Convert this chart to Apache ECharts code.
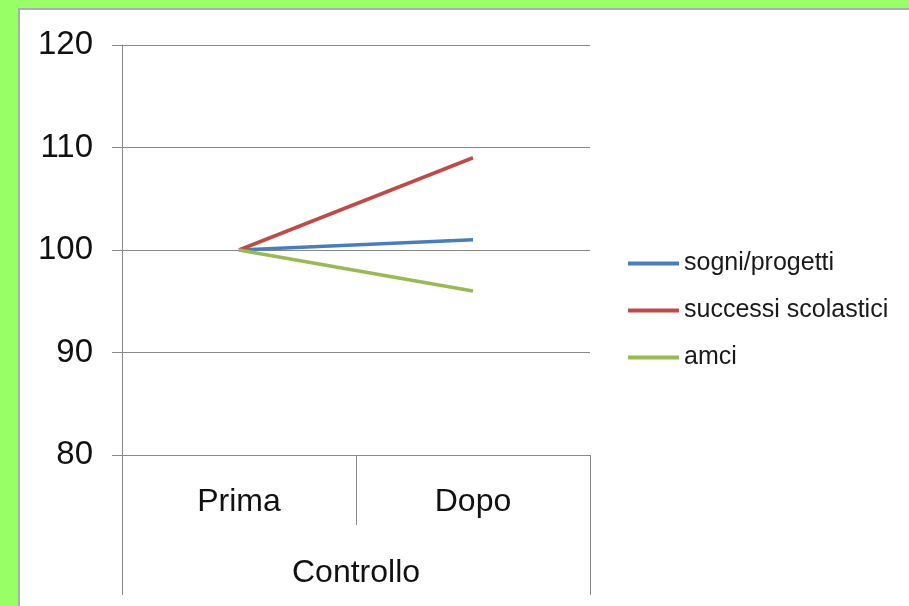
<!DOCTYPE html>
<html><head><meta charset="utf-8">
<script src="https://cdn.jsdelivr.net/npm/echarts@6/dist/echarts.min.js"></script>
<style>
html,body{margin:0;padding:0;background:#99ff66;}
#frame{position:absolute;left:18px;top:8px;width:891px;height:598px;background:#a8acc0;}
#inner{position:absolute;left:20px;top:10px;width:889px;height:596px;background:#ffffff;}
#c{position:absolute;left:0;top:0;width:909px;height:606px;}
</style></head>
<body>
<div id="frame"></div><div id="inner"></div>
<div id="c"></div>
<script>
var categories = ['Prima', 'Dopo'];
var groupLabel = ['Controllo'];
var seriesNames = ['sogni/progetti', 'successi scolastici', 'amci'];
var sogniProgetti = [100, 101];
var successiScolastici = [100, 109];
var amci = [100, 96];
var colors = ['#4a7ebb', '#be4b48', '#98b954'];

var font = 'Liberation Sans, Arial, sans-serif';
var gray = '#888888';
var chart = echarts.init(document.getElementById('c'), null, {renderer: 'canvas'});
var data = [sogniProgetti, successiScolastici, amci];
chart.setOption({
  animation: false,
  backgroundColor: 'transparent',
  grid: {left: 122, right: 319, top: 45, bottom: 151},
  legend: {
    orient: 'vertical', left: 623, top: 246, itemWidth: 51, itemHeight: 4, itemGap: 22,
    icon: 'rect',
    textStyle: {fontFamily: font, fontSize: 25, color: '#1a1a1a'},
    data: seriesNames
  },
  xAxis: [{
    type: 'category', data: categories, boundaryGap: true, position: 'bottom',
    axisLine: {show: true, lineStyle: {color: gray, width: 1}},
    axisTick: {show: true, length: 70, interval: 0, lineStyle: {color: gray}},
    axisLabel: {margin: 31, fontFamily: font, fontSize: 32, color: '#111', interval: 0}
  }, {
    type: 'category', data: groupLabel, boundaryGap: true, position: 'bottom',
    axisLine: {show: false},
    axisTick: {show: true, length: 140, lineStyle: {color: gray}},
    axisLabel: {margin: 102, fontFamily: font, fontSize: 32, color: '#111'}
  }],
  yAxis: {
    type: 'value', min: 80, max: 120, interval: 10,
    axisLine: {show: true, lineStyle: {color: gray, width: 1}},
    axisTick: {show: true, length: 10, lineStyle: {color: gray}},
    splitLine: {show: true, lineStyle: {color: gray, width: 1}},
    axisLabel: {margin: 29, fontFamily: font, fontSize: 33, color: '#111', padding: [5, 0, 0, 0]}
  },
  series: seriesNames.map(function (n, i) {
    return {
      name: n, type: 'line', data: data[i], xAxisIndex: 0,
      symbol: 'none', lineStyle: {width: 3.5, color: colors[i]},
      itemStyle: {color: colors[i]}
    };
  })
});
</script>
</body></html>
